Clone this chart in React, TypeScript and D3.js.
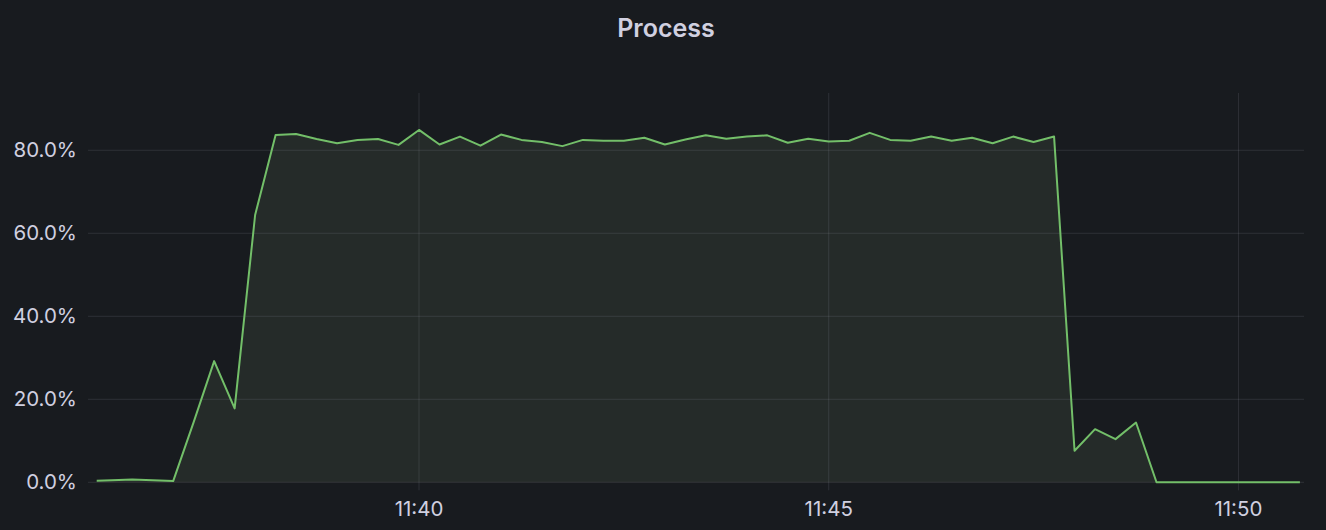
import React from "react";
import * as d3 from "d3";

const title = "Process";
const times = [
  "11:36:04", "11:36:15", "11:36:30", "11:36:45", "11:37:00", "11:37:15", "11:37:30", "11:37:45",
  "11:38:00", "11:38:15", "11:38:30", "11:38:45", "11:39:00", "11:39:15", "11:39:30", "11:39:45",
  "11:40:00", "11:40:15", "11:40:30", "11:40:45", "11:41:00", "11:41:15", "11:41:30", "11:41:45",
  "11:42:00", "11:42:15", "11:42:30", "11:42:45", "11:43:00", "11:43:15", "11:43:30", "11:43:45",
  "11:44:00", "11:44:15", "11:44:30", "11:44:45", "11:45:00", "11:45:15", "11:45:30", "11:45:45",
  "11:46:00", "11:46:15", "11:46:30", "11:46:45", "11:47:00", "11:47:15", "11:47:30", "11:47:45",
  "11:48:00", "11:48:15", "11:48:30", "11:48:45", "11:49:00", "11:49:15", "11:49:30", "11:49:45",
  "11:50:00", "11:50:15", "11:50:30", "11:50:45",
];
const values = [
  0.4, 0.5, 0.7, 0.5, 0.3, 14.5, 29.2, 17.8,
  64.4, 83.7, 83.9, 82.7, 81.7, 82.5, 82.7, 81.3,
  84.9, 81.4, 83.3, 81.1, 83.8, 82.5, 82.0, 81.0,
  82.5, 82.3, 82.3, 83.0, 81.4, 82.6, 83.6, 82.8,
  83.3, 83.6, 81.8, 82.8, 82.1, 82.3, 84.2, 82.5,
  82.3, 83.3, 82.3, 83.0, 81.7, 83.3, 82.0, 83.3,
  7.6, 12.8, 10.4, 14.4, 0, 0, 0, 0,
  0, 0, 0, 0,
];
const yTicks = [0, 20, 40, 60, 80];
const xTickLabels = ["11:40", "11:45", "11:50"];
const xDomain = ["11:36:04", "11:50:48"];
const yMax = 93.8;

const parse = d3.timeParse("%H:%M:%S");
const parseHM = d3.timeParse("%H:%M");

export default function App() {
  const W = 1326, H = 530;
  const left = 96.7, right = 1304, top = 93, bottom = 482.3;
  const x = d3.scaleTime().domain(xDomain.map((t) => parse(t)!)).range([left, right]);
  const y = d3.scaleLinear().domain([0, yMax]).range([bottom, top]);
  const data = times.map((t, i) => ({ t: parse(t)!, v: values[i] }));
  const line = d3.line<{ t: Date; v: number }>().x((d) => x(d.t)).y((d) => y(d.v));
  const area = d3
    .area<{ t: Date; v: number }>()
    .x((d) => x(d.t))
    .y0(y(0))
    .y1((d) => y(d.v));
  const grid = "rgba(204,204,220,0.12)";
  const textColor = "#d0d0e0";
  const font = "Inter, 'Noto Sans', sans-serif";
  return (
    <div style={{ position: "fixed", left: 0, top: 0, width: W, height: H }}>
      <svg width={W} height={H} style={{ display: "block", background: "#181b1f" }}>
        <text x={W / 2 + 3} y={37} textAnchor="middle" fill={textColor} fontFamily={font} fontSize={25} fontWeight={600}>
          {title}
        </text>
        {yTicks.map((v) => (
          <g key={v}>
            <line x1={88} x2={right} y1={y(v)} y2={y(v)} stroke={grid} strokeWidth={1} />
            <text x={77} y={y(v)} dy="0.35em" textAnchor="end" fill={textColor} fontFamily={font} fontSize={20.5}>
              {d3.format(".1f")(v) + "%"}
            </text>
          </g>
        ))}
        {xTickLabels.map((l) => {
          const xx = x(parseHM(l)!);
          return (
            <g key={l}>
              <line x1={xx} x2={xx} y1={top} y2={bottom + 8} stroke={grid} strokeWidth={1} />
              <text x={xx} y={509} dy="0.35em" textAnchor="middle" fill={textColor} fontFamily={font} fontSize={20.5}>
                {l}
              </text>
            </g>
          );
        })}
        <path d={area(data)!} fill="#a0bb88" fillOpacity={0.1} />
        <path d={line(data)!} fill="none" stroke="#73bf69" strokeWidth={2} strokeLinejoin="round" />
      </svg>
    </div>
  );
}
